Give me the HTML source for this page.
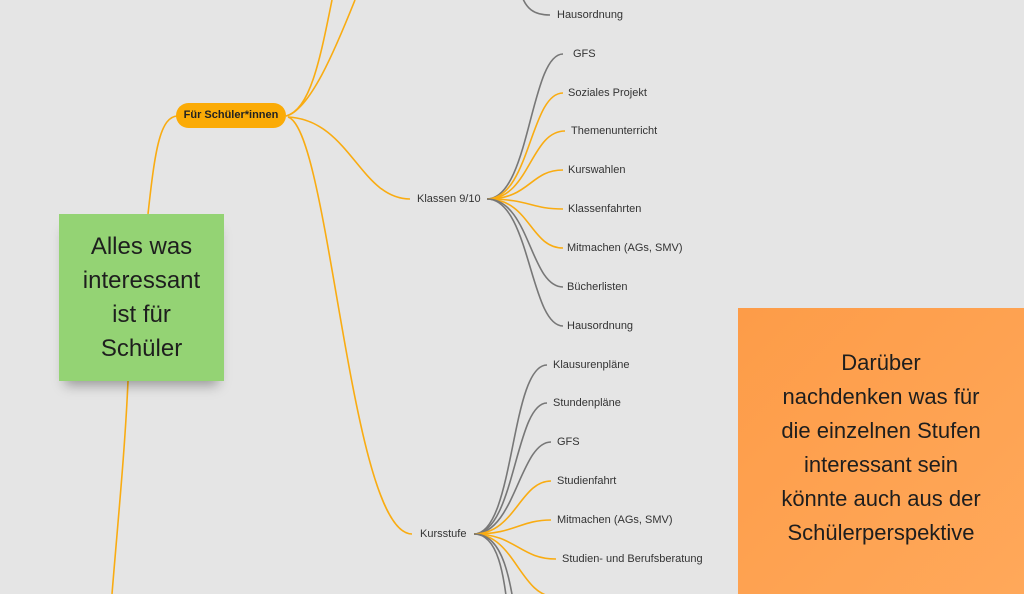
<!DOCTYPE html>
<html><head><meta charset="utf-8"><style>
html,body{margin:0;padding:0;width:1024px;height:594px;overflow:hidden;background:#e5e5e5;font-family:"Liberation Sans","DejaVu Sans",sans-serif;}
.t{position:absolute;font-size:11px;color:#333;white-space:nowrap;line-height:12px}
.sticky{position:absolute;display:flex;align-items:center;justify-content:center;text-align:center;color:#1e1e1e;white-space:nowrap}
</style></head><body>
<svg width="1024" height="594" style="position:absolute;left:0;top:0" fill="none" stroke-width="1.6">
<g stroke="#f9ac12">
<path d="M148,214 C155,150 160,116 178,116"/>
<path d="M286,116 C310,110 320,60 332,0"/>
<path d="M286,116 C310,110 335,50 355,0"/>
<path d="M288,117 C350,120 360,199 410,199"/>
<path d="M288,117 C330,130 350,534 412,534"/>
<path d="M128,381 C125,450 118,520 112,594"/>
</g>
<g>
<path stroke="#777" d="M487,199 C530,199 530,54 563,54"/>
<path stroke="#f9ac12" d="M487,199 C530,199 530,93 563,93"/>
<path stroke="#f9ac12" d="M487,199 C530,199 530,131 565,131"/>
<path stroke="#f9ac12" d="M487,199 C530,199 530,170 563,170"/>
<path stroke="#f9ac12" d="M487,199 C530,199 530,209 563,209"/>
<path stroke="#f9ac12" d="M487,199 C530,199 530,248 563,248"/>
<path stroke="#777" d="M487,199 C530,199 530,287 563,287"/>
<path stroke="#777" d="M487,199 C530,199 530,326 563,326"/>
</g>
<path stroke="#777" d="M520,-10 C525,10 535,15 550,15"/>
<g>
<path stroke="#777" d="M474,534 C515,534 510,365 547,365"/>
<path stroke="#777" d="M474,534 C515,534 515,403 547,403"/>
<path stroke="#777" d="M474,534 C515,534 520,442 551,442"/>
<path stroke="#f9ac12" d="M474,534 C515,534 520,481 551,481"/>
<path stroke="#f9ac12" d="M474,534 C515,534 520,520 551,520"/>
<path stroke="#f9ac12" d="M474,534 C515,534 520,559 556,559"/>
<path stroke="#f9ac12" d="M474,534 C515,534 520,597 556,597"/>
<path stroke="#777" d="M474,534 C505,534 505,600 512,640"/>
<path stroke="#777" d="M474,534 C510,534 512,600 522,660"/>
</g>
</svg>
<div style="position:absolute;left:176px;top:103px;width:110px;height:25px;border-radius:13px;background:#fbab06;font-weight:bold;font-size:11px;color:#222;text-align:center;line-height:25px">Für Schüler*innen</div>
<div class="t" style="left:417px;top:193px">Klassen 9/10</div>
<div class="t" style="left:420px;top:528px">Kursstufe</div>
<div class="t" style="left:557px;top:9px">Hausordnung</div>
<div class="t" style="left:573px;top:48px">GFS</div>
<div class="t" style="left:568px;top:87px">Soziales Projekt</div>
<div class="t" style="left:571px;top:125px">Themenunterricht</div>
<div class="t" style="left:568px;top:164px">Kurswahlen</div>
<div class="t" style="left:568px;top:203px">Klassenfahrten</div>
<div class="t" style="left:567px;top:242px">Mitmachen (AGs, SMV)</div>
<div class="t" style="left:567px;top:281px">Bücherlisten</div>
<div class="t" style="left:567px;top:320px">Hausordnung</div>
<div class="t" style="left:553px;top:359px">Klausurenpläne</div>
<div class="t" style="left:553px;top:397px">Stundenpläne</div>
<div class="t" style="left:557px;top:436px">GFS</div>
<div class="t" style="left:557px;top:475px">Studienfahrt</div>
<div class="t" style="left:557px;top:514px">Mitmachen (AGs, SMV)</div>
<div class="t" style="left:562px;top:553px">Studien- und Berufsberatung</div>
<div class="sticky" style="left:59px;top:214px;width:165px;height:167px;background:#94d374;font-size:24px;line-height:34px;box-shadow:0 10px 12px -6px rgba(0,0,0,0.35)">Alles was<br>interessant<br>ist für<br>Schüler</div>
<div class="sticky" style="left:738px;top:308px;width:286px;height:286px;background:linear-gradient(135deg,#fd9c48,#ffa85a);font-size:22px;line-height:34px;padding-bottom:6px;box-sizing:border-box">Darüber<br>nachdenken was für<br>die einzelnen Stufen<br>interessant sein<br>könnte auch aus der<br>Schülerperspektive</div>
</body></html>
